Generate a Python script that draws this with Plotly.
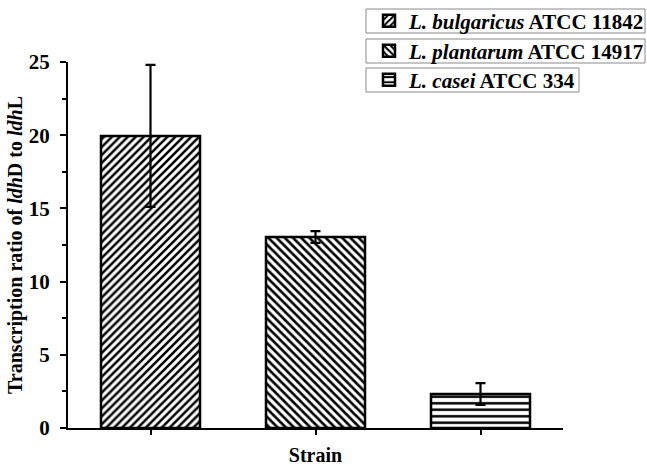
import plotly.graph_objects as go

species = ["L. bulgaricus", "L. plantarum", "L. casei"]
atcc = ["ATCC 11842", "ATCC 14917", "ATCC 334"]
ratios = [19.95, 13.05, 2.32]
errors = [4.85, 0.4, 0.75]
positions = [0, 1, 2]
y_ticks = [0, 5, 10, 15, 20, 25]

patterns = ["/", "\\", "-"]
psizes = [5.6, 5.8, 6.5]
psolid = [0.45, 0.45, 0.38]
legends = ["legend", "legend2", "legend3"]

FONT = "Liberation Serif, Times New Roman, serif"

# plot-area geometry in pixels (for placing legend boxes)
L, R, T, B = 68, 84, 62, 38
W, H = 647, 466
PW, PH = W - L - R, H - T - B


def px_x(px):
    return (px - L) / PW


def px_y(py):
    return (H - B - py) / PH


fig = go.Figure()
for i in range(3):
    fig.add_trace(go.Bar(
        x=[positions[i]], y=[ratios[i]],
        name=f"<b><i>{species[i]}</i> {atcc[i]}</b>",
        width=0.6,
        marker=dict(color="white", line=dict(color="black", width=2.5),
                    pattern=dict(shape=patterns[i], size=psizes[i], solidity=psolid[i],
                                 fgcolor="black", fgopacity=1, bgcolor="white",
                                 fillmode="overlay")),
        error_y=dict(type="data", array=[errors[i]], visible=True, color="black",
                     thickness=2.2, width=5),
        legend=legends[i],
        showlegend=True,
    ))

leg_common = dict(xanchor="left", yanchor="middle", borderwidth=0,
                  bgcolor="rgba(0,0,0,0)", font=dict(family=FONT, size=21, color="black"),
                  itemwidth=30, tracegroupgap=0)

# legend frames (one per entry)
boxes = [(366, 645, 9, 33), (366, 645, 39, 63), (366, 579, 68, 92)]
shapes = []
for (x0, x1, y0, y1) in boxes:
    shapes.append(dict(type="rect", xref="paper", yref="paper",
                       x0=px_x(x0), x1=px_x(x1), y0=px_y(y1), y1=px_y(y0),
                       line=dict(color="#8a8a8a", width=1), fillcolor="white", layer="below"))

fig.update_layout(
    width=W, height=H,
    margin=dict(l=L, r=R, t=T, b=B, autoexpand=False),
    paper_bgcolor="white", plot_bgcolor="rgba(0,0,0,0)",
    font=dict(family=FONT, color="black"),
    shapes=shapes,
    legend=dict(x=px_x(369), y=px_y(21), **leg_common),
    legend2=dict(x=px_x(369), y=px_y(51), **leg_common),
    legend3=dict(x=px_x(369), y=px_y(80), **leg_common),
    xaxis=dict(range=[-0.5, 2.5], showline=True, linecolor="black", linewidth=2,
               ticks="outside", ticklen=5, tickwidth=2, tickcolor="black",
               tickvals=positions, showticklabels=False, showgrid=False, zeroline=False,
               title=dict(text="<b>Strain</b>", font=dict(size=20, family=FONT), standoff=14)),
    yaxis=dict(range=[0, 25], showline=True, linecolor="black", linewidth=2,
               ticks="outside", ticklen=6, tickwidth=2, tickcolor="black",
               tickvals=y_ticks, ticktext=[f"<b>{v}</b>" for v in y_ticks],
               tickfont=dict(size=21, family=FONT), ticklabelstandoff=6,
               minor=dict(tickvals=[2.5, 7.5, 12.5, 17.5, 22.5], ticks="outside", ticklen=4,
                          tickwidth=2, tickcolor="black"),
               showgrid=False, zeroline=False,
               title=dict(text="<b>Transcription ratio of <i>ldh</i>D to <i>ldh</i>L</b>",
                          font=dict(size=20, family=FONT), standoff=1)),
)

fig.write_html("out.html", config={"displayModeBar": False},
               post_script="document.body.style.margin='0';")
